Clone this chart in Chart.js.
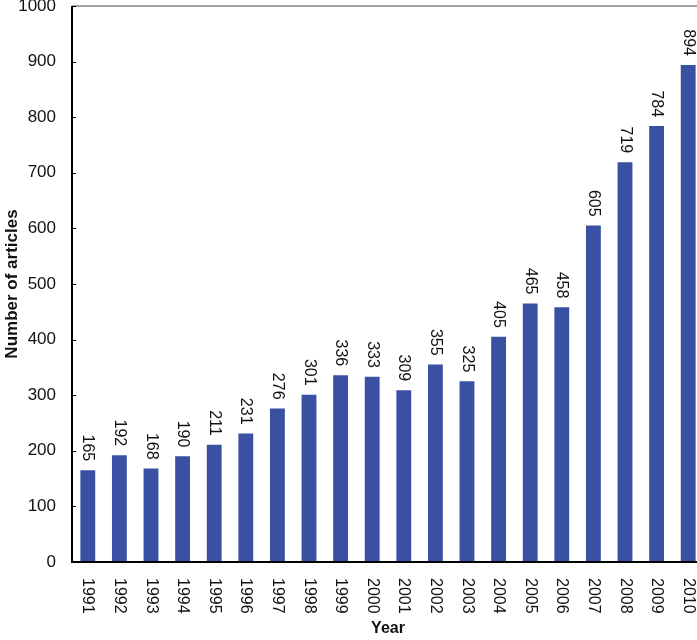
<!DOCTYPE html>
<html>
<head>
<meta charset="utf-8">
<script src="https://cdn.jsdelivr.net/npm/chart.js@4.4.1/dist/chart.umd.min.js"></script>
<style>
  html, body { margin: 0; padding: 0; background: #fff; overflow: hidden; }
  #wrap { position: absolute; left: 0; top: 0; width: 704px; height: 640px; }
</style>
</head>
<body>
<div id="wrap"><canvas id="articlesChart"></canvas></div>
<script>
const years = ['1991', '1992', '1993', '1994', '1995', '1996', '1997', '1998', '1999', '2000',
  '2001', '2002', '2003', '2004', '2005', '2006', '2007', '2008', '2009', '2010'];
const articles = [165, 192, 168, 190, 211, 231, 276, 301, 336, 333,
  309, 355, 325, 405, 465, 458, 605, 719, 784, 894];
const yTicks = [0, 100, 200, 300, 400, 500, 600, 700, 800, 900, 1000];

const FONT = '"Liberation Sans", Arial, sans-serif';
const BAR_COLOR = '#3A50A2';

// rotated labels (top-to-bottom) for years and bar values, plus inner tick marks
const decorations = {
  id: 'decorations',
  afterDraw(chart) {
    const ctx = chart.ctx;
    const area = chart.chartArea;
    const x = chart.scales.x;
    const y = chart.scales.y;
    ctx.save();

    // top frame line
    ctx.strokeStyle = '#808080';
    ctx.lineWidth = 1.5;
    ctx.beginPath();
    ctx.moveTo(area.left, area.top);
    ctx.lineTo(area.right, area.top);
    ctx.stroke();

    // y tick marks pointing inward
    ctx.strokeStyle = '#000';
    ctx.lineWidth = 1;
    yTicks.forEach(v => {
      const py = Math.round(y.getPixelForValue(v)) + 0.5;
      ctx.beginPath();
      ctx.moveTo(area.left, py);
      ctx.lineTo(area.left + 4, py);
      ctx.stroke();
    });

    // axes
    ctx.lineWidth = 2;
    ctx.beginPath();
    ctx.moveTo(area.left, area.top);
    ctx.lineTo(area.left, area.bottom);
    ctx.lineTo(area.right, area.bottom);
    ctx.stroke();

    ctx.fillStyle = '#111';
    ctx.font = '16px ' + FONT;
    ctx.textBaseline = 'middle';

    // year labels
    ctx.textAlign = 'left';
    years.forEach((label, i) => {
      const px = x.getPixelForValue(i);
      ctx.save();
      ctx.translate(px, area.bottom + 16);
      ctx.rotate(Math.PI / 2);
      ctx.fillText(label, 0, 0);
      ctx.restore();
    });

    // value labels above bars
    ctx.textAlign = 'right';
    chart.getDatasetMeta(0).data.forEach((bar, i) => {
      ctx.save();
      ctx.translate(bar.x, bar.y - 9);
      ctx.rotate(Math.PI / 2);
      ctx.fillText(String(articles[i]), 0, 0);
      ctx.restore();
    });

    ctx.restore();
  }
};

new Chart(document.getElementById('articlesChart'), {
  type: 'bar',
  data: {
    labels: years,
    datasets: [{
      data: articles,
      backgroundColor: BAR_COLOR,
      barPercentage: 0.47,
      categoryPercentage: 1
    }]
  },
  options: {
    responsive: true,
    maintainAspectRatio: false,
    animation: false,
    layout: { padding: { top: 6, right: 0, bottom: 0, left: 0 } },
    plugins: {
      legend: { display: false },
      tooltip: { enabled: false }
    },
    scales: {
      x: {
        grid: { display: false, drawTicks: false },
        border: { display: false },
        ticks: { display: false },
        title: {
          display: true,
          text: 'Year',
          color: '#111',
          font: { family: FONT, size: 16, weight: 'bold' },
          padding: { top: 0, bottom: 2 }
        },
        afterFit(scale) {
          scale.height = 78;
          scale.paddingLeft = 0;
          scale.paddingRight = 0;
        }
      },
      y: {
        min: 0,
        max: 1000,
        grid: { display: false, drawTicks: false },
        border: { display: false },
        ticks: {
          stepSize: 100,
          padding: 16,
          color: '#111',
          font: { family: FONT, size: 17 },
          callback: v => String(v)
        },
        title: {
          display: true,
          text: 'Number of articles',
          color: '#111',
          font: { family: FONT, size: 17, weight: 'bold' },
          padding: { top: 2, bottom: 0 }
        },
        afterFit(scale) {
          scale.width = 72;
          scale.paddingTop = 0;
          scale.paddingBottom = 0;
        }
      }
    }
  },
  plugins: [decorations]
});
</script>
</body>
</html>
